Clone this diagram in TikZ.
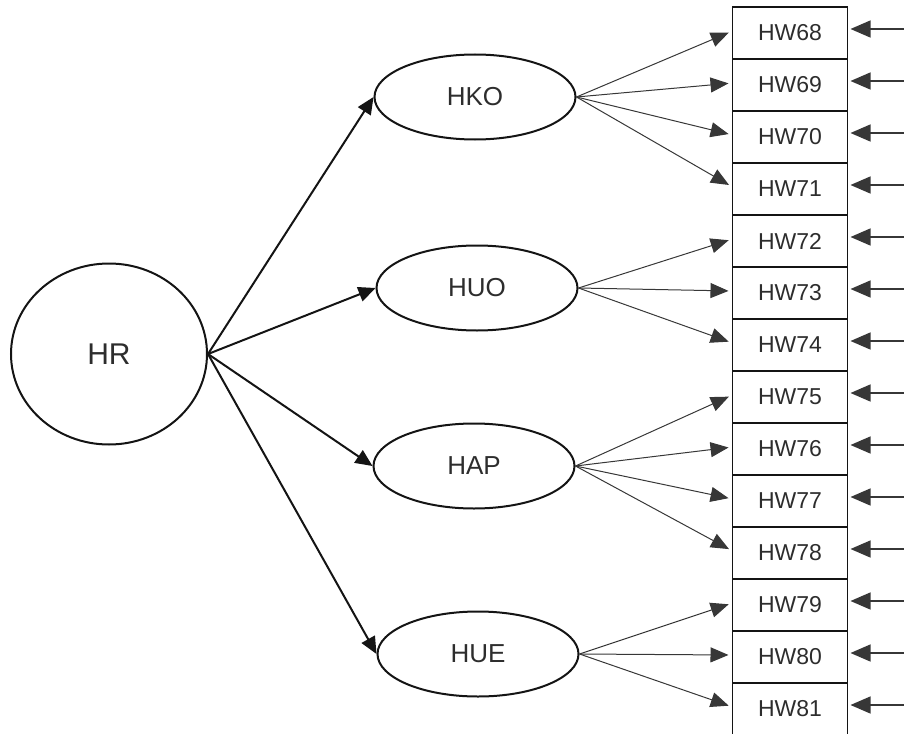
\documentclass[tikz,border=0pt]{standalone}
\usepackage{fontspec}
\setmainfont{Liberation Sans}
\definecolor{ink}{RGB}{20,20,20}
\definecolor{lettr}{RGB}{45,45,45}
\usetikzlibrary{arrows.meta,positioning,shapes.geometric}

\begin{document}
\begin{tikzpicture}[x=1pt, y=-1pt,
    factor/.style={ellipse, draw=ink, line width=2pt, minimum width=201pt, minimum height=85pt, inner sep=0pt, text=lettr, font=\fontsize{26}{30}\selectfont},
    item/.style={rectangle, draw=ink, line width=1.2pt, outer sep=0pt, minimum width=115pt, minimum height=52pt, inner sep=0pt, text=lettr, font=\fontsize{23}{26}\selectfont},
    load/.style={-{Triangle[length=17pt,width=15pt]}, line width=2pt, draw=ink},
    fan/.style={-{Triangle[length=18pt,width=15pt]}, line width=1pt, draw=ink!85, shorten >=4pt},
    errin/.style={-{Triangle[length=20pt,width=17pt]}, line width=1.3pt, draw=ink!85, shorten >=3pt}]
  \useasboundingbox (0,0) rectangle (904,733);
  % latent variables
  \node[factor, minimum width=196pt, minimum height=181pt, font=\fontsize{30}{34}\selectfont] (hr) at (109,354) {HR};
  \node[factor] (hko) at (475,97) {HKO};
  \node[factor] (huo) at (477,288) {HUO};
  \node[factor] (hap) at (474,466) {HAP};
  \node[factor] (hue) at (478,654) {HUE};
  % indicators
  \node[item] (hw68) at (790,33) {HW68};
  \foreach \n [remember=\n as \p (initially 68)] in {69,...,81}
    \node[item, below=0pt of hw\p] (hw\n) {HW\n};
  % paths
  \foreach \f in {hko,huo,hap,hue}
    \draw[load] (hr.east) -- (\f.west);
  \foreach \f/\n in {hko/68,hko/69,hko/70,hko/71,huo/72,huo/73,huo/74,hap/75,hap/76,hap/77,hap/78,hue/79,hue/80,hue/81}
    \draw[fan] (\f.east) -- ([yshift=2pt]hw\n.west);
  % error terms
  \foreach \n in {68,...,81} {
    \coordinate[right=57pt of hw\n.east, yshift=4pt] (err\n);
    \draw[errin] (err\n) -- ([yshift=4pt]hw\n.east);
  }
\end{tikzpicture}
\end{document}
